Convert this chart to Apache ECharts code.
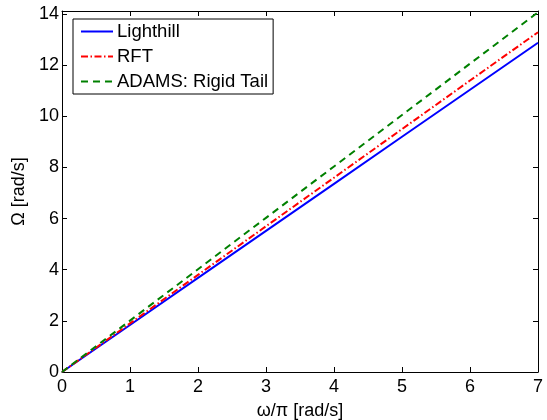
<!DOCTYPE html>
<html><head><meta charset="utf-8">
<script src="https://cdn.jsdelivr.net/npm/echarts@6/dist/echarts.min.js"></script>
<style>html,body{margin:0;padding:0;background:#fff}#c{width:547px;height:420px}</style>
</head><body><div id="c"></div>
<script>
var xValues = [0, 1, 2, 3, 4, 5, 6, 7];
var lighthill = [0, 1.84, 3.68, 5.52, 7.36, 9.20, 11.04, 12.88];
var rft = [0, 1.90, 3.80, 5.70, 7.60, 9.50, 11.40, 13.29];
var adams = [0, 2.01, 4.02, 6.03, 8.04, 10.05, 12.06, 14.07];
var seriesNames = ['Lighthill', 'RFT', 'ADAMS: Rigid Tail'];
var xName = 'ω/π [rad/s]';
var yName = 'Ω [rad/s]';

function pairs(ys){ return xValues.map(function(x,i){ return [x, ys[i]]; }); }
var font = 'Liberation Sans, Arial, Helvetica, sans-serif';
var fs = 18;
var chart = echarts.init(document.getElementById('c'), null, {renderer:'canvas'});
var tickFmt = function(v){ return (Math.abs(v/2 - Math.round(v/2)) < 1e-6) ? String(v) : ''; };
var axisCommon = {
  axisLine:{show:true, onZero:false, lineStyle:{color:'#000', width:1}},
  axisTick:{show:true, inside:true, length:5, lineStyle:{color:'#000'}},
  splitLine:{show:false}
};
chart.setOption({
  animation:false,
  textStyle:{fontFamily:font},
  grid:{left:62, right:9, top:11, bottom:48, containLabel:false, outerBoundsMode:'none'},
  legend:{
    orient:'vertical', left:73, top:19,
    data:seriesNames,
    backgroundColor:'#fff', borderColor:'#000', borderWidth:1,
    padding:[3,5,3,7], itemGap:6, itemWidth:32, itemHeight:18,
    itemStyle:{opacity:0, borderWidth:0},
    textStyle:{fontFamily:font, fontSize:18.5, color:'#000', padding:[0,0,0,-1]}
  },
  xAxis:[
    Object.assign({type:'value', min:0, max:7, interval:1, position:'bottom',
      name:xName, nameLocation:'middle', nameGap:30,
      nameTextStyle:{fontFamily:font, fontSize:fs, color:'#000'},
      axisLabel:{color:'#000', fontSize:fs, fontFamily:font, margin:6}}, axisCommon),
    Object.assign({type:'value', min:0, max:7, interval:1, position:'top',
      axisLabel:{show:false}}, axisCommon)
  ],
  yAxis:[
    Object.assign({type:'value', min:0, max:14.12, interval:2, position:'left',
      name:yName, nameLocation:'middle', nameGap:27,
      nameTextStyle:{fontFamily:font, fontSize:fs, color:'#000'},
      axisLabel:{color:'#000', fontSize:fs, fontFamily:font, margin:3, formatter:tickFmt}}, axisCommon),
    Object.assign({type:'value', min:0, max:14.12, interval:2, position:'right',
      axisLabel:{show:false}}, axisCommon)
  ],
  series:[
    {name:seriesNames[0], type:'line', data:pairs(lighthill), showSymbol:false, symbol:'none',
     lineStyle:{color:'#0000ff', width:2, type:'solid'}, itemStyle:{color:'#0000ff'}},
    {name:seriesNames[1], type:'line', data:pairs(rft), showSymbol:false, symbol:'none',
     lineStyle:{color:'#ff0000', width:2, type:[7,2.5,1.5,2.5]}, itemStyle:{color:'#ff0000'}},
    {name:seriesNames[2], type:'line', data:pairs(adams), showSymbol:false, symbol:'none',
     lineStyle:{color:'#008000', width:2, type:[7,5]}, itemStyle:{color:'#008000'}}
  ]
});
</script></body></html>
